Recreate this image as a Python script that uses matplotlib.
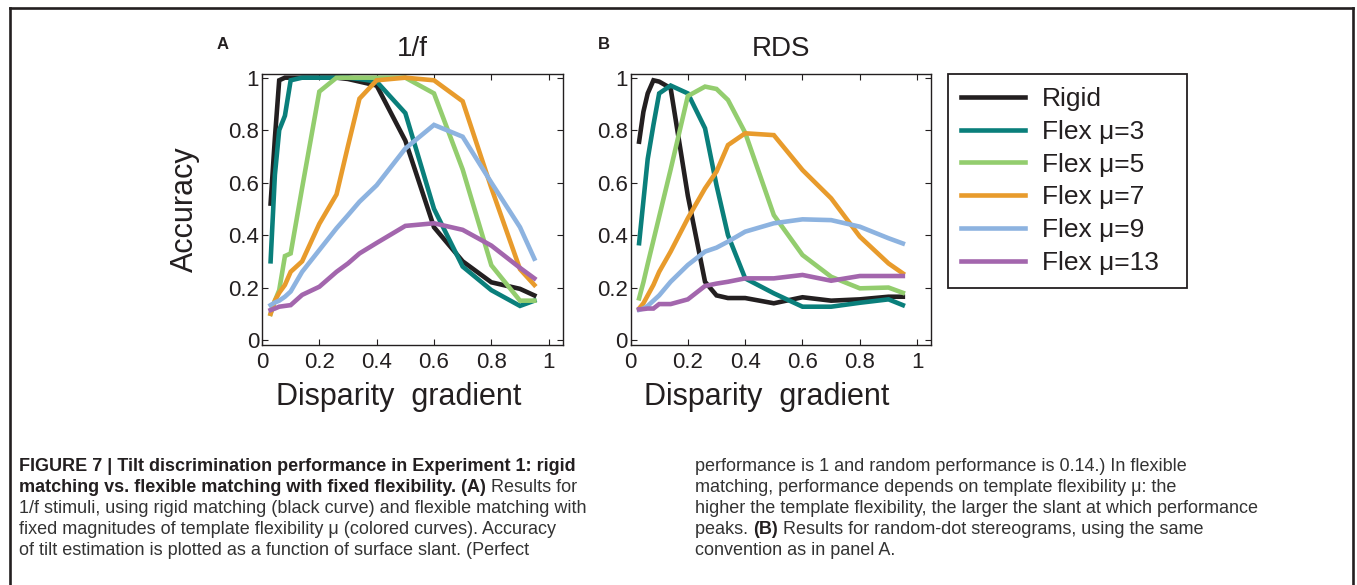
import matplotlib
matplotlib.use("Agg")
import matplotlib.pyplot as plt
from matplotlib.lines import Line2D

plt.rcParams['font.family'] = ['Liberation Sans', 'DejaVu Sans']

# disparity gradient sample points (shared by both panels)
gradient = [0.03, 0.045, 0.06, 0.08, 0.1, 0.14, 0.2, 0.26, 0.3, 0.34, 0.4, 0.5, 0.6, 0.7, 0.8, 0.9, 0.95]

# panel A: 1/f stimuli
rigid_A  = [0.52, 0.77, 0.99, 1.0, 1.0, 1.0, 1.0, 1.0, 0.995, 0.985, 0.97, 0.76, 0.43, 0.30, 0.22, 0.195, 0.17]
flex3_A  = [0.30, 0.63, 0.80, 0.855, 0.99, 1.0, 1.0, 1.0, 1.0, 0.995, 0.985, 0.865, 0.50, 0.28, 0.19, 0.13, 0.15]
flex5_A  = [0.10, 0.15, 0.19, 0.32, 0.33, 0.58, 0.947, 1.0, 1.0, 1.0, 1.0, 1.0, 0.94, 0.65, 0.285, 0.15, 0.15]
flex7_A  = [0.10, 0.15, 0.18, 0.21, 0.26, 0.30, 0.443, 0.555, 0.74, 0.92, 0.99, 1.0, 0.99, 0.91, 0.58, 0.27, 0.21]
flex9_A  = [0.133, 0.143, 0.15, 0.165, 0.185, 0.26, 0.343, 0.426, 0.476, 0.527, 0.59, 0.73, 0.82, 0.775, 0.60, 0.43, 0.31]
flex13_A = [0.114, 0.12, 0.127, 0.13, 0.133, 0.172, 0.203, 0.26, 0.292, 0.33, 0.37, 0.435, 0.445, 0.42, 0.36, 0.275, 0.235]

# panel B: random-dot stereograms
rigid_B  = [0.756, 0.87, 0.94, 0.99, 0.985, 0.96, 0.55, 0.222, 0.17, 0.16, 0.16, 0.14, 0.163, 0.15, 0.155, 0.165, 0.165]
flex3_B  = [0.369, 0.53, 0.69, 0.82, 0.94, 0.97, 0.94, 0.807, 0.59, 0.40, 0.235, 0.178, 0.127, 0.127, 0.142, 0.155, 0.133]
flex5_B  = [0.159, 0.22, 0.29, 0.38, 0.47, 0.65, 0.93, 0.966, 0.957, 0.915, 0.79, 0.476, 0.324, 0.241, 0.197, 0.2, 0.18]
flex7_B  = [0.12, 0.14, 0.17, 0.21, 0.26, 0.337, 0.464, 0.578, 0.642, 0.743, 0.788, 0.781, 0.648, 0.54, 0.394, 0.292, 0.254]
flex9_B  = [0.115, 0.12, 0.13, 0.15, 0.17, 0.222, 0.286, 0.337, 0.352, 0.375, 0.413, 0.445, 0.46, 0.457, 0.432, 0.388, 0.368]
flex13_B = [0.117, 0.118, 0.12, 0.12, 0.137, 0.137, 0.155, 0.206, 0.215, 0.222, 0.235, 0.235, 0.248, 0.226, 0.244, 0.244, 0.244]

series_labels = ["Rigid", "Flex \u03bc=3", "Flex \u03bc=5", "Flex \u03bc=7", "Flex \u03bc=9", "Flex \u03bc=13"]
series_colors = ["#231f20", "#0a7f7b", "#93cd6e", "#e89b2c", "#8db3e0", "#a366ad"]
tick_vals = [0, 0.2, 0.4, 0.6, 0.8, 1]
tick_labels = ["0", "0.2", "0.4", "0.6", "0.8", "1"]

caption_left = [
    [("FIGURE 7 | Tilt discrimination performance in Experiment 1: rigid", True)],
    [("matching vs. flexible matching with fixed flexibility. (A)", True), (" Results for", False)],
    [("1/f stimuli, using rigid matching (black curve) and flexible matching with", False)],
    [("fixed magnitudes of template flexibility \u03bc (colored curves). Accuracy", False)],
    [("of tilt estimation is plotted as a function of surface slant. (Perfect", False)],
]
caption_right = [
    [("performance is 1 and random performance is 0.14.) In flexible", False)],
    [("matching, performance depends on template flexibility \u03bc: the", False)],
    [("higher the template flexibility, the larger the slant at which performance", False)],
    [("peaks. ", False), ("(B)", True), (" Results for random-dot stereograms, using the same", False)],
    [("convention as in panel A.", False)],
]

W, H = 1357, 585
dark = "#231f20"
fig = plt.figure(figsize=(W / 100, H / 100), dpi=100)


def rect(l, t, r, b):
    return [l / W, 1 - b / H, (r - l) / W, (b - t) / H]


axA = fig.add_axes(rect(262, 74, 563, 345))
axB = fig.add_axes(rect(630.5, 74, 931.5, 345))

panels = [
    (axA, "1/f", "A", [rigid_A, flex3_A, flex5_A, flex7_A, flex9_A, flex13_A]),
    (axB, "RDS", "B", [rigid_B, flex3_B, flex5_B, flex7_B, flex9_B, flex13_B]),
]
for ax, title, letter, curves in panels:
    for vals, col, lab in zip(curves, series_colors, series_labels):
        ax.plot(gradient, vals, color=col, lw=3.3, label=lab, solid_joinstyle='miter')
    ax.set_xlim(0, 1.05)
    ax.set_ylim(-0.019, 1.014)
    ax.set_xticks(tick_vals)
    ax.set_xticklabels(tick_labels)
    ax.set_yticks(tick_vals)
    ax.set_yticklabels(tick_labels)
    ax.tick_params(direction='in', top=True, right=True, length=4, width=0.8,
                   labelsize=16, colors=dark)
    ax.tick_params(axis='y', pad=2)
    ax.tick_params(axis='x', pad=5)
    for sp in ax.spines.values():
        sp.set_color(dark)
        sp.set_linewidth(1.0)
    ax.set_title(title, fontsize=20, pad=13, color=dark)
    ax.set_xlabel("Disparity  gradient", fontsize=22, color=dark)
    ax.xaxis.set_label_coords(0.453, -0.135)
    ax.xaxis.label.set_va('top')
    ax.text(-0.13 if letter == "A" else -0.09, 1.11, letter, transform=ax.transAxes,
            fontsize=12, fontweight='bold', color=dark, ha='center', va='center')

axA.set_ylabel("Accuracy", fontsize=22, color=dark)
axA.yaxis.set_label_coords(-0.205, 0.5)

handles, labels = axA.get_legend_handles_labels()
leg = fig.legend(handles, labels, loc='upper left',
                 bbox_to_anchor=(948 / W, 1 - 74 / H - 0.01, (1187 - 948) / W, 0.01),
                 mode='expand', fontsize=19, handlelength=2.4, handletextpad=0.65,
                 labelspacing=0.33, borderpad=0.5, borderaxespad=0,
                 fancybox=False, framealpha=1, edgecolor=dark)
leg.get_frame().set_linewidth(1.3)
for t in leg.get_texts():
    t.set_color(dark)

# page frame
frame_kw = dict(color=dark, lw=1.9, transform=fig.transFigure)
fig.add_artist(Line2D([9.5 / W, 9.5 / W], [0, 1 - 8 / H], **frame_kw))
fig.add_artist(Line2D([9.5 / W, 1353 / W], [1 - 8 / H, 1 - 8 / H], **frame_kw))
fig.add_artist(Line2D([1353 / W, 1353 / W], [0, 1 - 8 / H], **frame_kw))

# caption
cap_size = 13
rows_y = [475, 496, 517, 538, 559]


def caption_column(x0, lines):
    for y, pieces in zip(rows_y, lines):
        prev = None
        for txt, bold in pieces:
            kw = dict(fontsize=cap_size, fontweight='bold' if bold else 'normal',
                      color=dark if bold else "#333333", ha='left', va='bottom')
            if prev is None:
                prev = fig.text(x0 / W, 1 - y / H, txt, **kw)
            else:
                prev = axA.annotate(txt, xy=(1, 0), xycoords=prev, annotation_clip=False, **kw)


caption_column(19, caption_left)
caption_column(695, caption_right)

fig.savefig("out.png", dpi=100)
